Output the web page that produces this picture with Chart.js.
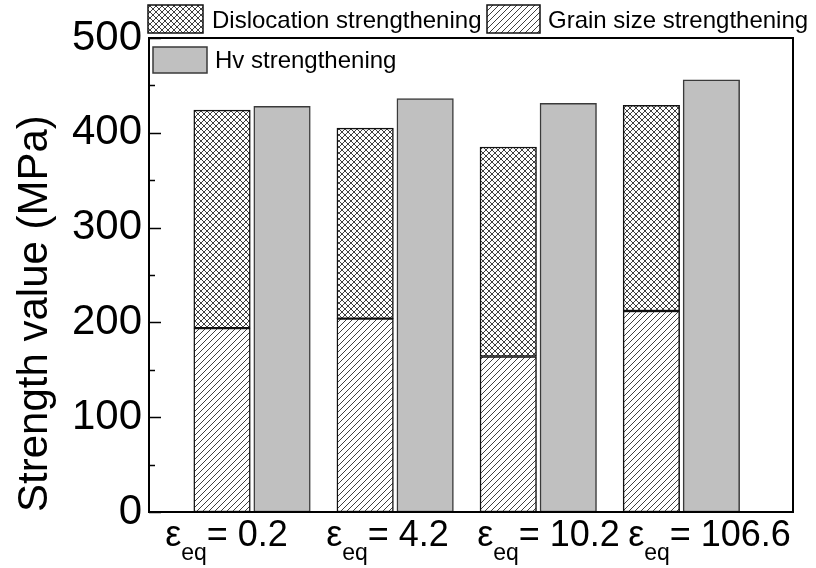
<!DOCTYPE html>
<html>
<head>
<meta charset="utf-8">
<script src="https://cdn.jsdelivr.net/npm/chart.js@4/dist/chart.umd.min.js"></script>
<style>
  html, body { margin:0; padding:0; background:#fff; }
  #wrap { width:816px; height:568px; position:relative; }
</style>
</head>
<body>
<div id="wrap"><canvas id="chart"></canvas></div>
<script>
// data
const strainLabels = ['0.2', '4.2', '10.2', '106.6'];
const strainPos    = [1, 2, 3, 4];
const grainSize    = [194, 204, 164, 212];
const dislocation  = [230, 201, 221, 217];
const hvValues     = [428, 436, 431, 456];
const yMin = 0, yMax = 500, yStep = 100;

const FONT = "'Liberation Sans', Arial, sans-serif";

// hatch fills (pattern tiles)
function hatch(kind){
  const s = 6, c = document.createElement('canvas');
  c.width = c.height = s;
  const g = c.getContext('2d');
  g.fillStyle = '#fff'; g.fillRect(0,0,s,s);
  g.strokeStyle = '#2a2a2a'; g.lineWidth = 0.9;
  g.beginPath();
  g.moveTo(-1, s+1); g.lineTo(s+1, -1);
  if (kind === 'cross'){ g.moveTo(-1, -1); g.lineTo(s+1, s+1); }
  g.stroke();
  return g.createPattern(c, 'repeat');
}

const pts = arr => strainPos.map((x,i) => ({x, y: arr[i]}));

// frame + inward ticks on the left axis
const framePlugin = {
  id:'frame',
  afterDatasetsDraw(chart){
    const {ctx, chartArea:a} = chart, y = chart.scales.y;
    ctx.save();
    ctx.strokeStyle = '#000'; ctx.lineWidth = 2;
    ctx.strokeRect(a.left, a.top, a.right-a.left, a.bottom-a.top);
    ctx.lineWidth = 1.5;
    for (let v = yMin; v <= yMax; v += yStep/2){
      const py = Math.round(y.getPixelForValue(v)) + 0.5;
      const len = (v % yStep === 0) ? 12 : 6;
      ctx.beginPath(); ctx.moveTo(a.left, py); ctx.lineTo(a.left+len, py); ctx.stroke();
    }
    ctx.restore();
  }
};

// x labels with subscript: ε_eq = value
const xLabelPlugin = {
  id:'xlabels',
  afterDraw(chart){
    const {ctx} = chart, sc = chart.scales.xl;
    const big = '36px '+FONT, small = '23px '+FONT, base = 546;
    ctx.save();
    ctx.fillStyle = '#000'; ctx.textBaseline = 'alphabetic'; ctx.textAlign = 'left';
    strainLabels.forEach((lab, i) => {
      const tail = '= ' + lab;
      ctx.font = big;  const w1 = ctx.measureText('\u03b5').width, w3 = ctx.measureText(tail).width;
      ctx.font = small; const w2 = ctx.measureText('eq').width;
      let x = sc.getPixelForTick(i) - (w1+w2+w3)/2 - 3;
      ctx.font = big;   ctx.fillText('\u03b5', x, base); x += w1;
      ctx.font = small; ctx.fillText('eq', x, base+14); x += w2;
      ctx.font = big;   ctx.fillText(tail, x, base);
    });
    ctx.restore();
  }
};

// legend: two entries above the frame, Hv inside the frame
const legendPlugin = {
  id:'customLegend',
  afterDraw(chart){
    const {ctx} = chart, ds = chart.data.datasets;
    const items = [
      {d: ds[1], box:[148, 5, 55, 28], tx:212, ty:28},
      {d: ds[0], box:[487, 5, 53, 28], tx:548, ty:28},
      {d: ds[2], box:[153, 47, 54, 26], tx:215, ty:68}
    ];
    ctx.save();
    ctx.font = '24px '+FONT; ctx.fillStyle = '#000'; ctx.textBaseline = 'alphabetic';
    items.forEach(it => {
      const [x,y,w,h] = it.box;
      ctx.fillStyle = it.d.backgroundColor; ctx.fillRect(x,y,w,h);
      ctx.strokeStyle = it.d.borderColor; ctx.lineWidth = 1.5; ctx.strokeRect(x,y,w,h);
      ctx.fillStyle = '#000'; ctx.fillText(it.d.label, it.tx, it.ty);
    });
    ctx.restore();
  }
};

new Chart(document.getElementById('chart'), {
  type:'bar',
  data:{
    datasets:[
      { label:'Grain size strengthening', data:pts(grainSize), stack:'calc',
        backgroundColor:hatch('line'), borderColor:'#111', borderWidth:1.5, borderSkipped:false },
      { label:'Dislocation strengthening', data:pts(dislocation), stack:'calc',
        backgroundColor:hatch('cross'), borderColor:'#111', borderWidth:1.5, borderSkipped:false },
      { label:'Hv strengthening', data:pts(hvValues), stack:'hv',
        backgroundColor:'#c0c0c0', borderColor:'#3a3a3a', borderWidth:1.5, borderSkipped:false }
    ]
  },
  options:{
    responsive:true, maintainAspectRatio:false, animation:false,
    barThickness:60, maxBarThickness:56.5,
    layout:{ padding:{ top:38, right:23, left:0, bottom:0 } },
    plugins:{ legend:{display:false}, tooltip:{enabled:false} },
    scales:{
      x:{ type:'linear', min:0.28, max:4.78, offset:false,
          grid:{display:false, drawTicks:false}, border:{display:false}, ticks:{display:false},
          afterFit:s => { s.height = 56; } },
      xl:{ type:'category', labels:strainLabels, position:'bottom', offset:true,
          grid:{display:false, drawTicks:false}, border:{display:false}, ticks:{display:false},
          afterFit:s => { s.height = 0; } },
      y:{ min:yMin, max:yMax, stacked:true,
          grid:{display:false, drawTicks:false}, border:{display:false},
          ticks:{ stepSize:yStep, color:'#000', padding:7, font:{family:FONT, size:42} },
          title:{ display:true, text:'Strength value (MPa)', align:'start', color:'#000',
                  padding:{top:10, bottom:0}, font:{family:FONT, size:42} },
          afterFit:s => { s.width = 149; } }
    }
  },
  plugins:[framePlugin, xLabelPlugin, legendPlugin]
});
</script>
</body>
</html>
